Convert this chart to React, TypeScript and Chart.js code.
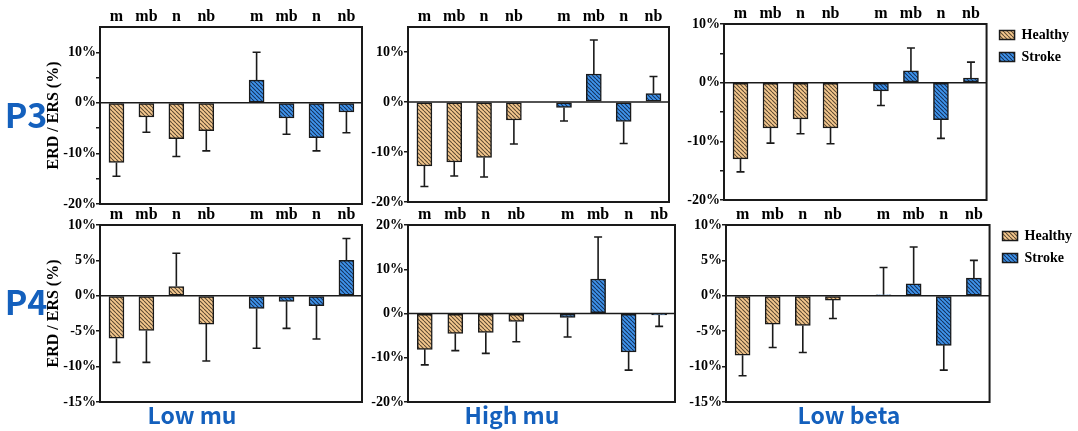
import React, { useEffect, useRef } from 'react';
import { Chart, registerables } from 'chart.js';
Chart.register(...registerables);

// ---------- data ----------
const categories = ['m', 'mb', 'n', 'nb'];
const seriesNames = ['Healthy', 'Stroke'];
const bandNames = ['Low mu', 'High mu', 'Low beta'];
const rowNames = ['P3', 'P4'];
const yAxisTitle = 'ERD / ERS (%)';

// P3 – Low mu
const p3LowMuHealthy = [-11.8, -2.8, -7.1, -5.5];
const p3LowMuHealthySd = [2.7, 3.0, 3.5, 4.0];
const p3LowMuStroke = [4.5, -3.0, -6.9, -1.8];
const p3LowMuStrokeSd = [5.5, 3.2, 2.6, 4.1];
// P3 – High mu
const p3HighMuHealthy = [-12.8, -12.0, -11.1, -3.6];
const p3HighMuHealthySd = [4.1, 2.8, 3.9, 4.8];
const p3HighMuStroke = [-1.1, 5.6, -3.9, 1.7];
const p3HighMuStrokeSd = [2.7, 6.8, 4.4, 3.4];
// P3 – Low beta
const p3LowBetaHealthy = [-13.0, -7.7, -6.2, -7.7];
const p3LowBetaHealthySd = [2.2, 2.6, 2.5, 2.7];
const p3LowBetaStroke = [-1.4, 2.0, -6.3, 0.8];
const p3LowBetaStrokeSd = [2.5, 3.9, 3.2, 2.7];
// P4 – Low mu
const p4LowMuHealthy = [-6.0, -4.9, 1.3, -4.0];
const p4LowMuHealthySd = [3.4, 4.5, 4.7, 5.2];
const p4LowMuStroke = [-1.8, -0.8, -1.4, 5.0];
const p4LowMuStrokeSd = [5.6, 3.8, 4.7, 3.1];
// P4 – High mu
const p4HighMuHealthy = [-8.1, -4.5, -4.3, -1.8];
const p4HighMuHealthySd = [3.5, 3.9, 4.7, 4.6];
const p4HighMuStroke = [-0.9, 7.8, -8.7, -0.3];
const p4HighMuStrokeSd = [4.4, 9.5, 4.1, 2.6];
// P4 – Low beta
const p4LowBetaHealthy = [-8.4, -4.0, -4.2, -0.6];
const p4LowBetaHealthySd = [2.9, 3.3, 3.8, 2.6];
const p4LowBetaStroke = [0.15, 1.7, -7.0, 2.5];
const p4LowBetaStrokeSd = [3.85, 5.2, 3.5, 2.5];

// y-axis ranges [min, max, tick step, label step]
const yAxisP3LowMu = [-20, 15, 5, 10];
const yAxisP3HighMu = [-20, 15, 10, 10];
const yAxisP3LowBeta = [-20, 10, 5, 10];
const yAxisP4LowMu = [-15, 10, 5, 5];
const yAxisP4HighMu = [-20, 20, 10, 10];
const yAxisP4LowBeta = [-15, 10, 2.5, 5];

// ---------- layout / style ----------
const SERIF = '"Liberation Serif", "Times New Roman", serif';
const SANS = '"Noto Sans CJK SC", "Noto Sans", sans-serif';
const BLUE_TEXT = '#1460bd';
const groupGap = 1.68;
const xMin = -0.55;
const xMax = 8.2;
const axisW = 60;
const topH = 24;

const panels = [
  { h: p3LowMuHealthy, hs: p3LowMuHealthySd, s: p3LowMuStroke, ss: p3LowMuStrokeSd, y: yAxisP3LowMu, box: [100, 27, 362, 204], title: true, legend: false },
  { h: p3HighMuHealthy, hs: p3HighMuHealthySd, s: p3HighMuStroke, ss: p3HighMuStrokeSd, y: yAxisP3HighMu, box: [408, 27, 669, 202], title: false, legend: false },
  { h: p3LowBetaHealthy, hs: p3LowBetaHealthySd, s: p3LowBetaStroke, ss: p3LowBetaStrokeSd, y: yAxisP3LowBeta, box: [724, 24, 989, 200], title: false, legend: true },
  { h: p4LowMuHealthy, hs: p4LowMuHealthySd, s: p4LowMuStroke, ss: p4LowMuStrokeSd, y: yAxisP4LowMu, box: [100, 225, 362, 402], title: true, legend: false },
  { h: p4HighMuHealthy, hs: p4HighMuHealthySd, s: p4HighMuStroke, ss: p4HighMuStrokeSd, y: yAxisP4HighMu, box: [408, 225, 675, 402], title: false, legend: false },
  { h: p4LowBetaHealthy, hs: p4LowBetaHealthySd, s: p4LowBetaStroke, ss: p4LowBetaStrokeSd, y: yAxisP4LowBeta, box: [726, 225, 992, 402], title: false, legend: true },
];

function makeHatch(bg: string, fg: string) {
  const s = 4;
  const c = document.createElement('canvas');
  c.width = s;
  c.height = s;
  const g = c.getContext('2d')!;
  g.fillStyle = bg;
  g.fillRect(0, 0, s, s);
  g.strokeStyle = fg;
  g.lineWidth = 1.1;
  for (const k of [-s, 0, s]) {
    g.beginPath();
    g.moveTo(k, 0);
    g.lineTo(k + s, s);
    g.stroke();
  }
  return g.createPattern(c, 'repeat') as CanvasPattern;
}

const decoPlugin = {
  id: 'deco',
  afterLayout(chart: any) {
    const lg = chart.legend;
    if (lg && lg.options && lg.options.display) {
      lg.left += 5;
      lg.right += 5;
      lg.top -= 4;
      lg.bottom -= 4;
    }
  },
  afterDatasetsDraw(chart: any) {
    const { ctx, chartArea: a } = chart;
    const y = chart.scales.y;
    ctx.save();
    ctx.strokeStyle = '#1a1a1a';
    chart.data.datasets.forEach((ds: any, di: number) => {
      const meta = chart.getDatasetMeta(di);
      ds.data.forEach((pt: any, i: number) => {
        const el = meta.data[i];
        if (!el) return;
        const sd = ds.sd[i];
        const end = pt.y >= 0 ? pt.y + sd : pt.y - sd;
        const y0 = y.getPixelForValue(pt.y);
        const y1 = y.getPixelForValue(end);
        ctx.lineWidth = 1.6;
        ctx.beginPath();
        ctx.moveTo(el.x, y0);
        ctx.lineTo(el.x, y1);
        ctx.moveTo(el.x - 4, y1);
        ctx.lineTo(el.x + 4, y1);
        ctx.stroke();
      });
    });
    const zy = y.getPixelForValue(0);
    ctx.lineWidth = 1.5;
    ctx.beginPath();
    ctx.moveTo(a.left, zy);
    ctx.lineTo(a.right, zy);
    ctx.stroke();
    ctx.lineWidth = 2;
    ctx.strokeRect(a.left, a.top, a.right - a.left, a.bottom - a.top);
    ctx.restore();
  },
};

function Panel({ cfg }: { cfg: any }) {
  const ref = useRef<HTMLCanvasElement>(null);
  const [l, t, r, b] = cfg.box;
  const padB = 10;
  const left = l - axisW;
  const top = t - topH;
  const legendW = 85;
  const width = cfg.legend ? 1078 - left : r - l + axisW + 6;
  const padR = cfg.legend ? 1078 - r - legendW : 6;
  const height = topH + (b - t) + padB;

  useEffect(() => {
    const [yMin, yMax, step, labelStep] = cfg.y;
    const strokeOffset = categories.length - 1 + groupGap;
    const positions = [
      ...categories.map((_, i) => i),
      ...categories.map((_, i) => i + strokeOffset),
    ];
    const xLabels = [...categories, ...categories];
    const hatchH = makeHatch('#f6c98f', '#5e4a33');
    const hatchS = makeHatch('#3f94ec', '#14325e');
    const common = {
      borderColor: '#1a1a1a',
      borderWidth: 1.5,
      borderSkipped: false,
      barThickness: 15,
      grouped: false,
    };
    const chart = new Chart(ref.current!, {
      type: 'bar',
      data: {
        datasets: [
          {
            ...common,
            label: seriesNames[0],
            data: cfg.h.map((v: number, i: number) => ({ x: i, y: v })),
            sd: cfg.hs,
            backgroundColor: hatchH,
          } as any,
          {
            ...common,
            label: seriesNames[1],
            data: cfg.s.map((v: number, i: number) => ({ x: i + strokeOffset, y: v })),
            sd: cfg.ss,
            backgroundColor: hatchS,
          } as any,
        ],
      },
      options: {
        animation: false,
        responsive: false,
        events: [],
        layout: { padding: { left: 0, top: 0, right: padR, bottom: padB } },
        plugins: {
          tooltip: { enabled: false },
          legend: {
            display: cfg.legend,
            position: 'right',
            align: 'start',
            fullSize: false,
            labels: {
              boxWidth: 15,
              boxHeight: 9,
              padding: 8,
              color: '#000',
              font: { family: SERIF, weight: 'bold', size: 14 },
            },
          },
        },
        scales: {
          x: {
            type: 'linear',
            position: 'top',
            min: xMin,
            max: xMax,
            offset: false,
            afterBuildTicks: (s: any) => {
              s.ticks = positions.map((v) => ({ value: v }));
            },
            afterFit: (s: any) => {
              s.height = topH;
            },
            ticks: {
              autoSkip: false,
              maxRotation: 0,
              padding: 1,
              color: '#000',
              font: { family: SERIF, weight: 'bold', size: 16 },
              callback: (_v: any, i: number) => xLabels[i],
            },
            grid: { display: false, drawTicks: false, tickLength: 0, offset: false },
            border: { display: false },
          },
          y: {
            min: yMin,
            max: yMax,
            afterFit: (s: any) => {
              s.width = axisW;
            },
            ticks: {
              stepSize: step,
              includeBounds: false,
              padding: 0,
              color: '#000',
              font: { family: SERIF, weight: 'bold', size: 14 },
              callback: (v: any) => (Math.abs(v % labelStep) < 1e-9 ? `${v}%` : ''),
            },
            grid: {
              drawOnChartArea: false,
              drawTicks: true,
              tickLength: 4,
              lineWidth: 1.5,
              color: (c: any) =>
                c.tick && c.tick.value === yMax && Math.abs(c.tick.value % labelStep) > 1e-9
                  ? 'rgba(0,0,0,0)'
                  : '#1a1a1a',
            },
            border: { display: false },
            title: {
              display: cfg.title,
              text: yAxisTitle,
              color: '#000',
              font: { family: SERIF, weight: 'bold', size: 16 },
            },
          },
        },
      } as any,
      plugins: [decoPlugin],
    });
    return () => chart.destroy();
  }, []);

  return (
    <canvas
      ref={ref}
      width={width}
      height={height}
      style={{ position: 'absolute', left, top, width, height }}
    />
  );
}

const rowLabelPos = [
  [26, 114],
  [26, 301],
];
const bandLabelPos = [
  [192, 414],
  [512, 414],
  [849, 414],
];

export default function App() {
  return (
    <div style={{ position: 'absolute', left: 0, top: 0, width: 1078, height: 431, background: '#fff', overflow: 'hidden' }}>
      {panels.map((p, i) => (
        <Panel key={i} cfg={p} />
      ))}
      {rowNames.map((n, i) => (
        <div
          key={n}
          style={{
            position: 'absolute',
            left: rowLabelPos[i][0],
            top: rowLabelPos[i][1],
            transform: 'translate(-50%, -50%)',
            fontFamily: SANS,
            fontWeight: 700,
            fontSize: 34,
            lineHeight: 1,
            color: BLUE_TEXT,
            whiteSpace: 'nowrap',
          }}
        >
          {n}
        </div>
      ))}
      {bandNames.map((n, i) => (
        <div
          key={n}
          style={{
            position: 'absolute',
            left: bandLabelPos[i][0],
            top: bandLabelPos[i][1],
            transform: 'translate(-50%, -50%)',
            fontFamily: SANS,
            fontWeight: 700,
            fontSize: 23,
            lineHeight: 1,
            color: BLUE_TEXT,
            whiteSpace: 'nowrap',
          }}
        >
          {n}
        </div>
      ))}
    </div>
  );
}
